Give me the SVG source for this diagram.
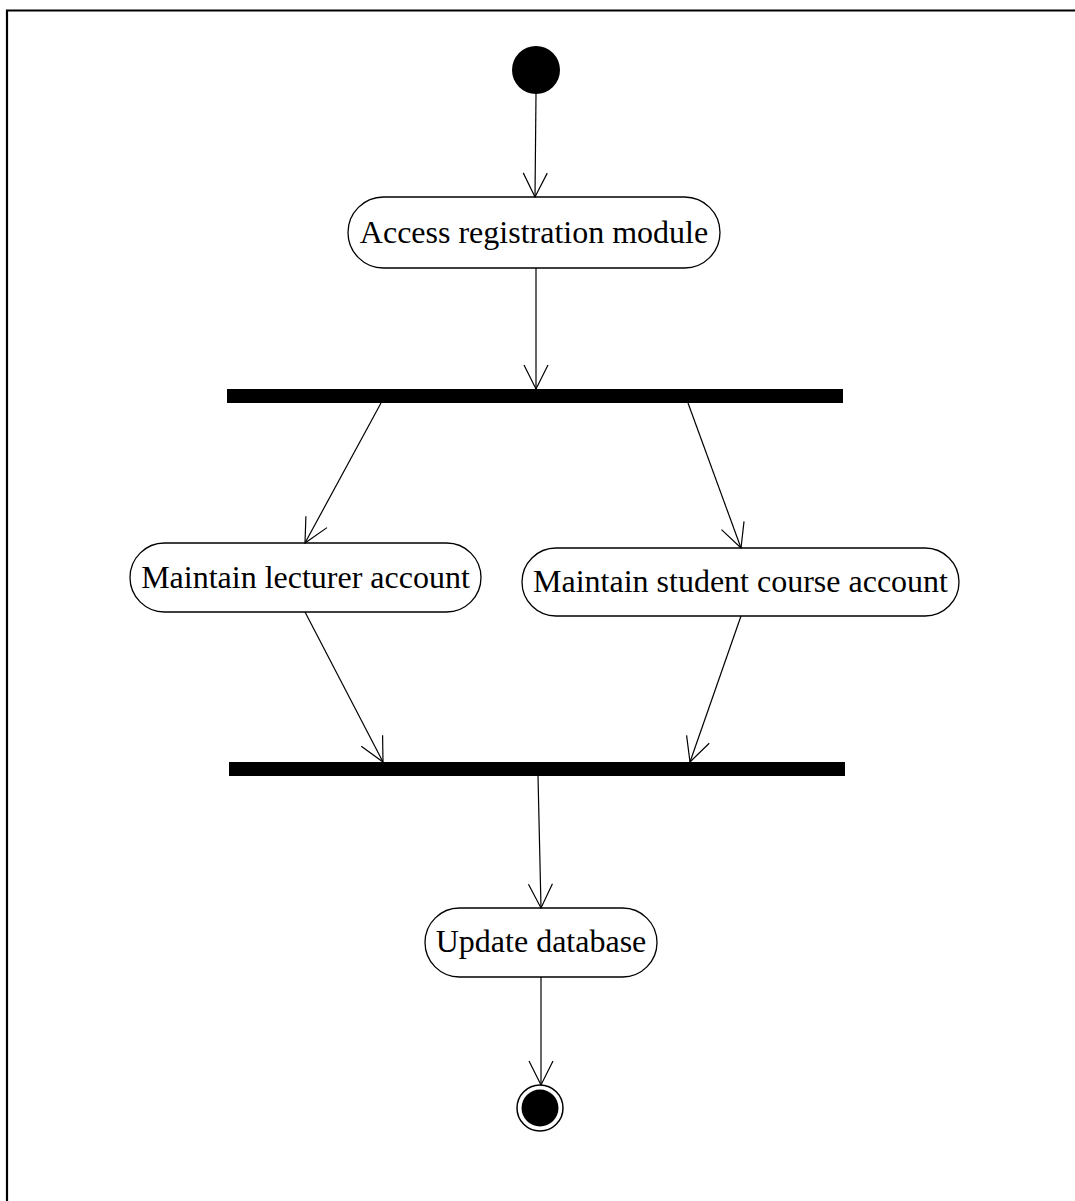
<svg xmlns="http://www.w3.org/2000/svg" width="1075" height="1201" viewBox="0 0 1075 1201">
<style>
.act{fill:#fff;stroke:#000;stroke-width:1.3}
.lbl{font-family:"Liberation Serif","Times New Roman",serif;font-size:32px;fill:#000;text-anchor:middle;dominant-baseline:central}
.bar{fill:#000}
.edge{stroke:#000;stroke-width:1.2;fill:none;marker-end:url(#arr)}
</style>
<defs>
<marker id="arr" markerUnits="userSpaceOnUse" viewBox="-30 -15 32 30" refX="0" refY="0" markerWidth="32" markerHeight="30" orient="auto">
<path d="M-24,-12 L0,0 L-24,12" fill="none" stroke="#000" stroke-width="1.2"/>
</marker>
</defs>
<rect width="1075" height="1201" fill="#fff"/>
<path d="M7,1201 V10.5 H1075" fill="none" stroke="#000" stroke-width="2.2"/>
<g id="start"><circle cx="536" cy="70" r="24" fill="#000"/></g>
<g id="access"><rect class="act" x="348" y="197" width="372" height="71" rx="35.5"/><text class="lbl" x="534" y="232">Access registration module</text></g>
<g id="fork"><rect class="bar" x="227" y="389" width="616" height="14"/></g>
<g id="lecturer"><rect class="act" x="130" y="543" width="351" height="69" rx="34.5"/><text class="lbl" x="305.5" y="577">Maintain lecturer account</text></g>
<g id="student"><rect class="act" x="522" y="548" width="437" height="68" rx="34"/><text class="lbl" x="740.5" y="581">Maintain student course account</text></g>
<g id="join"><rect class="bar" x="229" y="762" width="616" height="14"/></g>
<g id="update"><rect class="act" x="425" y="908" width="232" height="69" rx="34.5"/><text class="lbl" x="541" y="941">Update database</text></g>
<g id="end"><circle cx="540" cy="1108" r="23" fill="#fff" stroke="#000" stroke-width="1.5"/><circle cx="540" cy="1108" r="18.5" fill="#000"/></g>
<g id="connectors">
<path class="edge" d="M536,94 L535,197"/>
<path class="edge" d="M536,268 L536,389"/>
<path class="edge" d="M381,403 L305,543"/>
<path class="edge" d="M688,403 L741,548"/>
<path class="edge" d="M305,612 L383,762"/>
<path class="edge" d="M741,616 L690,762"/>
<path class="edge" d="M538,776 L541,908"/>
<path class="edge" d="M541,977 L541,1085"/>
</g>
</svg>
